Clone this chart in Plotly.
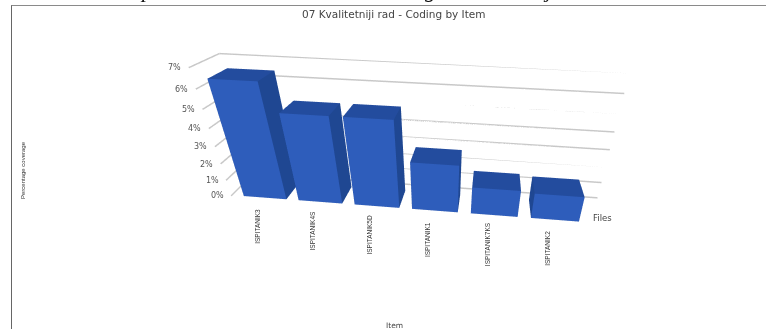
import numpy as np
import plotly.graph_objects as go

# Coverage per interview respondent, in percent
items = ["ISPITANIK3", "ISPITANIK4S", "ISPITANIK5D", "ISPITANIK1", "ISPITANIK7KS", "ISPITANIK2"]
coverage = [6.5, 5.0, 5.0, 2.8, 1.6, 1.5]
z_ticks = [0, 1, 2, 3, 4, 5, 6, 7]
z_labels = ["0%", "1%", "2%", "3%", "4%", "5%", "6%", "7%"]

W, H = 766, 329
FRONT, SIDE, TOP = "#2e5dbb", "#1f4792", "#234c9e"
GRID = "#c8c8c8"
SANS = "DejaVu Sans, sans-serif"
LABEL = "Liberation Sans, Arial, sans-serif"
BAR_W, BAR_D = 0.78, 1.0
BAR_OFFSET = 0.22
X_MAX = 6.45
Y_MAX = 1.42
Y_MIN = -0.05

# Viewing direction and distance of the camera, in scene units
VIEW = np.array([0.08, -0.852, 0.518])
DIST = 2.5
CENTER = np.array([0.256, -0.155, -0.08])
UP = [-0.0664, 0.5143, 0.855]
EYE = CENTER + DIST * VIEW / np.linalg.norm(VIEW)


def cuboid(x0, x1, y0, y1, h):
    xs = [x0, x1, x1, x0, x0, x1, x1, x0]
    ys = [y0, y0, y1, y1, y0, y0, y1, y1]
    zs = [0, 0, 0, 0, h, h, h, h]
    i = [0, 0, 4, 4, 1, 1, 3, 3, 0, 0, 2, 2]
    j = [1, 2, 5, 6, 2, 6, 0, 4, 1, 5, 3, 7]
    k = [2, 3, 6, 7, 6, 5, 4, 7, 5, 4, 7, 6]
    colors = [SIDE] * 2 + [TOP] * 2 + [SIDE] * 2 + [SIDE] * 2 + [FRONT] * 2 + [SIDE] * 2
    return go.Mesh3d(
        x=xs, y=ys, z=zs, i=i, j=j, k=k, facecolor=colors, flatshading=True,
        lighting=dict(ambient=1, diffuse=0, specular=0, fresnel=0), hoverinfo="skip", showscale=False,
    )


def page_text(px, py, text, size, color="#444444", family=SANS, angle=0):
    return dict(x=px / W, y=1 - py / H, xref="paper", yref="paper", xanchor="center", yanchor="middle",
                text=text, showarrow=False, textangle=angle, font=dict(size=size, color=color, family=family))


fig = go.Figure()

# Gridlines along the back wall and down the left wall
for t in z_ticks:
    fig.add_trace(go.Scatter3d(
        x=[0, 0, X_MAX], y=[Y_MIN, Y_MAX, Y_MAX], z=[t, t, t], mode="lines",
        line=dict(color=GRID, width=3), hoverinfo="skip", showlegend=False,
    ))

for n, v in enumerate(coverage):
    x0 = n + BAR_OFFSET
    fig.add_trace(cuboid(x0, x0 + BAR_W, 0.0, BAR_D, v))

axis_off = dict(visible=False, showgrid=False, zeroline=False, showbackground=False)

scene_notes = [
    dict(x=0, y=Y_MIN, z=t, text=lab, showarrow=False, xshift=-14,
         font=dict(size=8, color="#555555", family=SANS))
    for t, lab in zip(z_ticks, z_labels)
]
scene_notes += [
    dict(x=n + BAR_OFFSET + BAR_W / 2, y=Y_MIN, z=0, text=name, showarrow=False, textangle=-90,
         xshift=-7, yshift=-28, font=dict(size=6.5, color="#333333", family=LABEL))
    for n, name in enumerate(items)
]

page_notes = [
    page_text(394, 14, "07 Kvalitetniji rad - Coding by Item", 10.5),
    page_text(394, 325, "Item", 7.5),
    page_text(602, 218, "Files", 8.5),
    page_text(23, 170, "Percentage coverage", 6, color="#333333", family=LABEL, angle=-90),
]
# Descenders of the heading line that runs off the top of the page
for px, ch in [(146, "p"), (430, "g"), (547, "j")]:
    page_notes.append(dict(x=px / W, y=1 - 4 / H, xref="paper", yref="paper", xanchor="center", yanchor="bottom",
                           text=f"<i>{ch}</i>", showarrow=False,
                           font=dict(size=22, color="#111111", family="Liberation Serif")))

fig.update_layout(
    width=W, height=H,
    margin=dict(l=0, r=0, t=0, b=0),
    paper_bgcolor="white",
    showlegend=False,
    scene=dict(
        domain=dict(x=[0.175, 1], y=[0, 1]),
        xaxis=dict(axis_off, range=[0, X_MAX]),
        yaxis=dict(axis_off, range=[Y_MIN, Y_MAX]),
        zaxis=dict(axis_off, range=[0, 7]),
        aspectmode="manual",
        aspectratio=dict(x=2.61, y=0.303, z=0.93),
        camera=dict(
            eye=dict(x=EYE[0], y=EYE[1], z=EYE[2]),
            center=dict(x=CENTER[0], y=CENTER[1], z=CENTER[2]),
            up=dict(x=UP[0], y=UP[1], z=UP[2]),
        ),
        annotations=scene_notes,
    ),
    annotations=page_notes,
    shapes=[
        dict(type="line", xref="paper", yref="paper", x0=11 / W, x1=1, y0=1 - 5.5 / H, y1=1 - 5.5 / H,
             line=dict(color="#8a8a8a", width=1)),
        dict(type="line", xref="paper", yref="paper", x0=11.5 / W, x1=11.5 / W, y0=0, y1=1 - 5.5 / H,
             line=dict(color="#666666", width=1)),
    ],
)
fig.write_html("out.html")
